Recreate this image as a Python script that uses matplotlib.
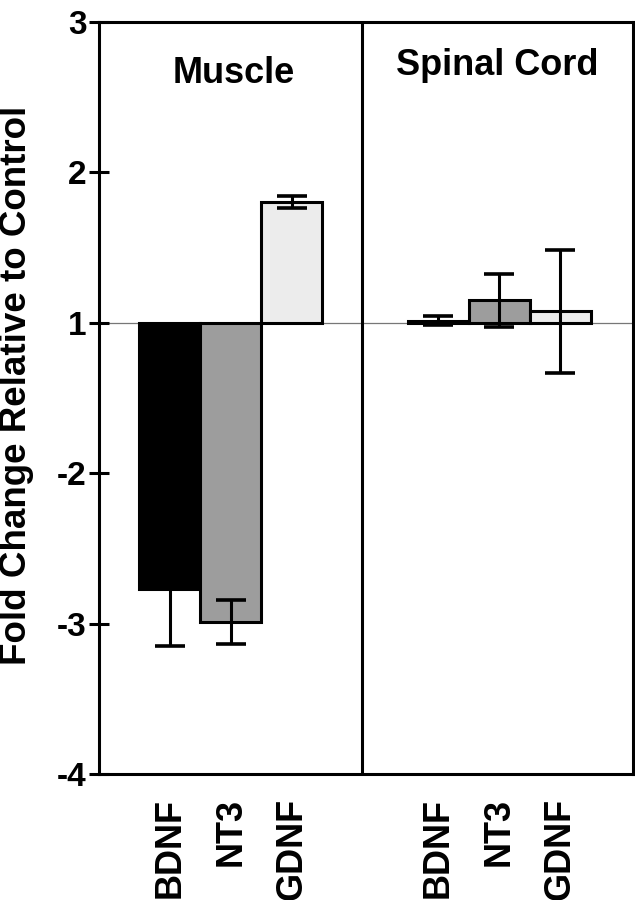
import matplotlib.pyplot as plt
import numpy as np

plt.rcParams['font.family'] = ['Liberation Sans', 'DejaVu Sans']
plt.rcParams['font.weight'] = 'bold'

# 数据
genes = ['BDNF', 'NT3', 'GDNF']
tissues = ['Muscle', 'Spinal Cord']
# bar ends on the axis scale (tick "1" is the baseline, below it -2, -3, -4)
muscle_vals = [-0.77, -0.99, 1.80]
muscle_err = [0.376, 0.145, 0.04]
spinal_vals = [1.015, 1.15, 1.075]
spinal_err = [0.03, 0.175, 0.41]
bar_colors = ['black', '#9d9d9d', '#ececec']

tick_pos = [3, 2, 1, 0, -1, -2]
tick_labels = ['3', '2', '1', '-2', '-3', '-4']

baseline = 1.0

fig = plt.figure(figsize=(6.35, 9), dpi=100)
ax = fig.add_axes([0.156, 0.14, 0.841, 0.8356])

group_start = [1.16, 5.56]
all_x = []
for start, vals, err in zip(group_start, [muscle_vals, spinal_vals], [muscle_err, spinal_err]):
    x = start + np.arange(len(genes))
    all_x.extend(x)
    vals = np.array(vals)
    ax.bar(x, vals - baseline, bottom=baseline, width=1.0, color=bar_colors,
           edgecolor='black', linewidth=2.2, zorder=2)
    ax.errorbar(x, vals, yerr=err, fmt='none', ecolor='black', elinewidth=2.2,
                capsize=11, capthick=2.6, zorder=3)

# 参考线与分隔线
ax.axhline(baseline, color='#777777', linewidth=0.9, zorder=1)
ax.axvline(4.31, color='black', linewidth=2.2, zorder=1)

# 标题
ax.text(2.2, 2.66, tissues[0], ha='center', va='center', fontsize=26, fontweight='bold')
ax.text(6.52, 2.71, tissues[1], ha='center', va='center', fontsize=26, fontweight='bold')

ax.set_xlim(0, 8.75)
ax.set_ylim(-2, 3)
ax.set_yticks(tick_pos)
ax.set_yticklabels(tick_labels, fontsize=24, fontweight='bold')
ax.set_xticks(all_x)
ax.set_xticklabels(genes * 2, rotation=90, fontsize=26, fontweight='bold')
ax.tick_params(axis='x', length=0, pad=17)
ax.tick_params(axis='y', direction='inout', length=14, width=2.2, pad=2)
ax.set_ylabel('Fold Change Relative to Control', fontsize=26.5, fontweight='bold')
ax.yaxis.set_label_coords(-0.122, 0.517)

for s in ax.spines.values():
    s.set_linewidth(2.2)

plt.savefig('out.png', dpi=100)
